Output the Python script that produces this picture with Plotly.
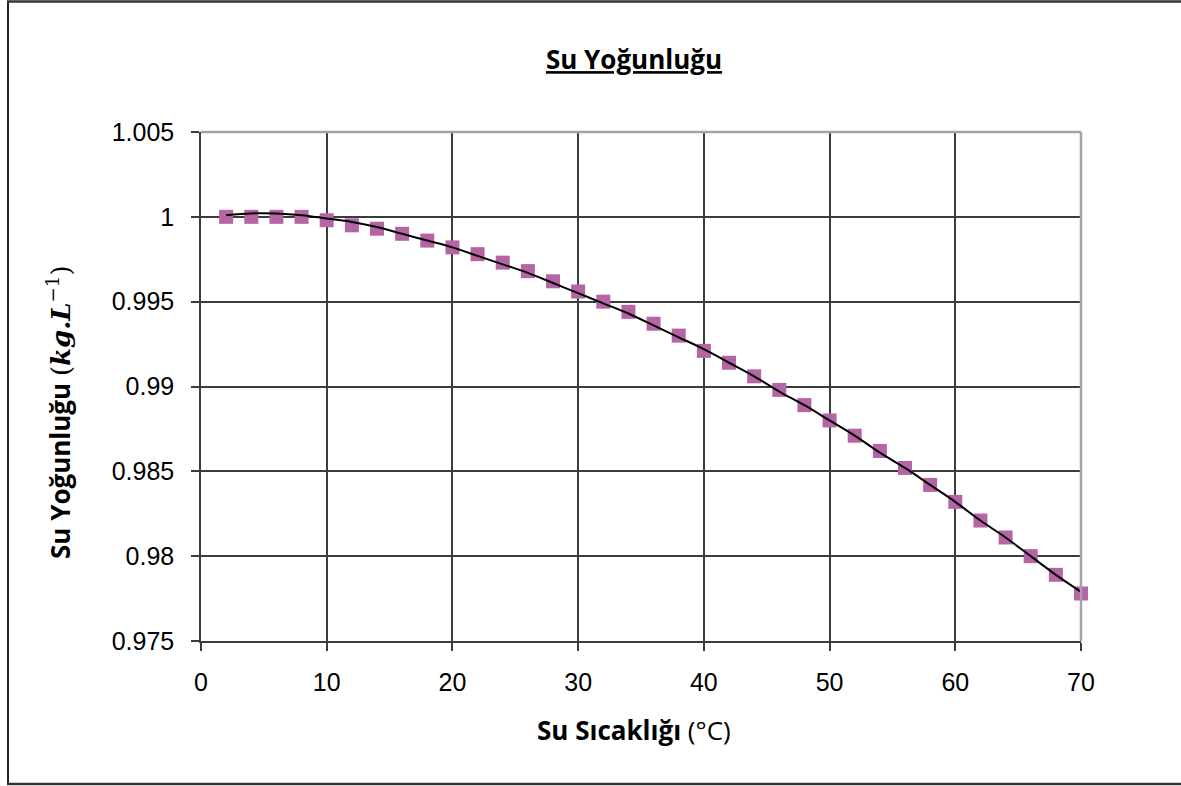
import plotly.graph_objects as go

# Data
temperature = [2, 4, 6, 8, 10, 12, 14, 16, 18, 20, 22, 24, 26, 28, 30, 32, 34, 36,
               38, 40, 42, 44, 46, 48, 50, 52, 54, 56, 58, 60, 62, 64, 66, 68, 70]
density = [1.0000, 1.0000, 1.0000, 1.0000, 0.9998, 0.9995, 0.9993, 0.9990, 0.9986,
           0.9982, 0.9978, 0.9973, 0.9968, 0.9962, 0.9956, 0.9950, 0.9944, 0.9937,
           0.9930, 0.9921, 0.9914, 0.9906, 0.9898, 0.9889, 0.9880, 0.9871, 0.9862,
           0.9852, 0.9842, 0.9832, 0.9821, 0.9811, 0.9800, 0.9789, 0.9778]
trend = [1.0001, 1.0002, 1.0002, 1.0001, 0.9999, 0.9997, 0.9994, 0.9990, 0.9986,
         0.9982, 0.9977, 0.9972, 0.9967, 0.9961, 0.9955, 0.9949, 0.9943, 0.9936,
         0.9929, 0.9922, 0.9914, 0.9906, 0.9897, 0.9889, 0.9880, 0.9871, 0.9861,
         0.9852, 0.9842, 0.9832, 0.9821, 0.9811, 0.9800, 0.9789, 0.9779]
y_ticks = [0.975, 0.98, 0.985, 0.99, 0.995, 1.0, 1.005]
y_tick_labels = ["0.975", "0.98", "0.985", "0.99", "0.995", "1", "1.005"]
x_ticks = [0, 10, 20, 30, 40, 50, 60, 70]

fig = go.Figure()
fig.add_trace(go.Scatter(
    x=temperature, y=density, mode="markers",
    marker=dict(symbol="square", size=14, color="#B564A4", line=dict(width=0)),
    showlegend=False, cliponaxis=False))
fig.add_trace(go.Scatter(
    x=temperature, y=trend, mode="lines", line_shape="spline",
    line=dict(color="black", width=2), showlegend=False))

grid_col = "#3c3c3c"
title_font = "Open Sans"

# pixel -> paper helpers (plot area 201..1081 x, 132..641 y)
pw, ph = 880, 509
def px(x):
    return (x - 201) / pw
def py(y):
    return (641 - y) / ph

fig.update_layout(
    width=1181, height=786,
    paper_bgcolor="white", plot_bgcolor="white",
    margin=dict(l=201, r=100, t=132, b=145),
    title=dict(text="<b><u>Su Yoğunluğu</u></b>", x=634 / 1181, xanchor="center",
               y=1 - 60 / 786, yanchor="middle",
               font=dict(family=title_font, size=26, color="black")),
    font=dict(family="Liberation Sans", color="black"),
)
fig.update_xaxes(
    range=[0, 70], tickvals=x_ticks, showgrid=True, gridcolor=grid_col, gridwidth=1.5,
    showline=True, linecolor=grid_col, linewidth=1.5, mirror=False,
    ticks="outside", ticklen=8, tickcolor=grid_col, tickwidth=1.5,
    ticklabelstandoff=10,
    tickfont=dict(family="Liberation Sans", size=25, color="black"),
    zeroline=False)
fig.update_yaxes(
    range=[0.975, 1.005], tickvals=y_ticks, ticktext=y_tick_labels,
    showgrid=True, gridcolor=grid_col, gridwidth=1.5,
    showline=True, linecolor=grid_col, linewidth=1.5,
    ticks="outside", ticklen=8, tickcolor=grid_col, tickwidth=1.5,
    ticklabelstandoff=12,
    tickfont=dict(family="Liberation Sans", size=25, color="black"),
    zeroline=False)

# axis titles as annotations (placed as in the reference)
fig.add_annotation(
    text="<b>Su Sıcaklığı</b> (°C)", xref="paper", yref="paper",
    x=px(634), y=py(730), xanchor="center", yanchor="middle", showarrow=False,
    font=dict(family=title_font, size=26, color="black"))
fig.add_annotation(
    text="<b>Su Yoğunluğu</b> <span style=\"font-family:'DejaVu Serif'\">(<b><i>kg.L</i></b><sup>−1</sup>)</span>",
    xref="paper", yref="paper", x=px(60), y=py(412), xanchor="center", yanchor="middle",
    textangle=-90, showarrow=False,
    font=dict(family=title_font, size=26, color="black"))

# light top and right plot border
fig.add_shape(type="line", xref="paper", yref="paper", x0=0, x1=1, y0=1, y1=1,
              line=dict(color="#a0a4a4", width=2.5), layer="above")
fig.add_shape(type="line", xref="paper", yref="paper", x0=1, x1=1, y0=0, y1=1,
              line=dict(color="#a0a4a4", width=2.5), layer="above")

# outer frame (left, top, bottom)
fig.add_shape(type="line", xref="paper", yref="paper", x0=px(8), x1=px(8), y0=py(1), y1=py(784),
              line=dict(color="#222", width=2))
fig.add_shape(type="line", xref="paper", yref="paper", x0=px(7), x1=px(1181), y0=py(1.5), y1=py(1.5),
              line=dict(color="#333", width=2.5))
fig.add_shape(type="line", xref="paper", yref="paper", x0=px(7), x1=px(1181), y0=py(784), y1=py(784),
              line=dict(color="#333", width=2.5))

fig.write_html("out.html", config={"displayModeBar": False},
               post_script="document.body.style.margin='0';document.body.style.overflow='hidden';")
